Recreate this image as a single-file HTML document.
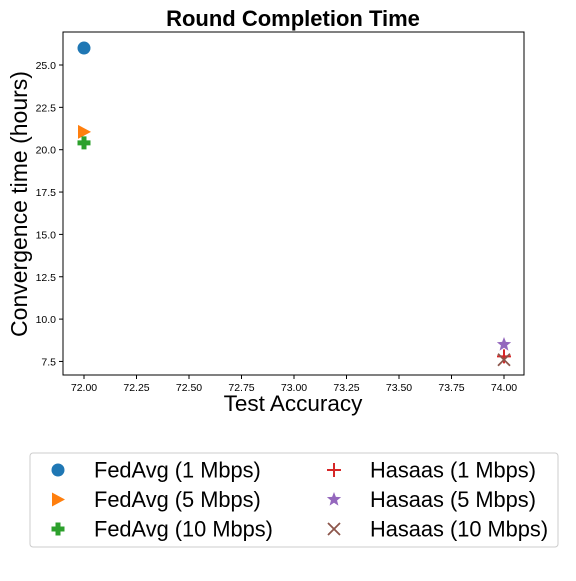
<!DOCTYPE html>
<html><head><meta charset="utf-8"><style>
body{margin:0;background:#fff;}
svg text{font-family:"Liberation Sans","DejaVu Sans",sans-serif;}
</style></head><body>
<svg id="c" width="576" height="576" xmlns="http://www.w3.org/2000/svg"></svg>
<script>
const seriesNames=["FedAvg (1 Mbps)","FedAvg (5 Mbps)","FedAvg (10 Mbps)","Hasaas (1 Mbps)","Hasaas (5 Mbps)","Hasaas (10 Mbps)"];
const xValues=[72,72,72,74,74,74];
const yValues=[26.0,21.05,20.4,7.8,8.5,7.6];
const xTicks=[72.00,72.25,72.50,72.75,73.00,73.25,73.50,73.75,74.00];
const yTicks=[7.5,10.0,12.5,15.0,17.5,20.0,22.5,25.0];
const colors=["#1f77b4","#ff7f0e","#2ca02c","#d62728","#9467bd","#8c564b"];
const shapes=["circle","tri","plusF","plus","star","x"];

const NS="http://www.w3.org/2000/svg";
const svg=document.getElementById('c');
const L=63,R=524,T=32,B=375;
const sx=v=>84+(v-72)*210;
const sy=v=>65-(v-25)*16.94;
function el(t,a,p){const e=document.createElementNS(NS,t);for(const k in a)e.setAttribute(k,a[k]);(p||svg).appendChild(e);return e;}
function marker(shape,x,y,col,g){
  let e;
  if(shape==="circle")e=el('circle',{cx:x,cy:y,r:6.5,fill:col},g);
  else if(shape==="tri")e=el('polygon',{points:`${x-6},${y-7} ${x+7},${y} ${x-6},${y+7}`,fill:col},g);
  else if(shape==="plusF")e=el('path',{d:`M${x-2.5},${y-6.5}h5v4h4v5h-4v4h-5v-4h-4v-5h4z`,fill:col},g);
  else if(shape==="plus")e=el('path',{d:`M${x-7},${y}h14M${x},${y-7}v14`,stroke:col,'stroke-width':2,fill:'none'},g);
  else if(shape==="star"){let p=[];for(let i=0;i<10;i++){const r=i%2?3.2:7.5,a=-Math.PI/2+i*Math.PI/5;p.push((x+r*Math.cos(a)).toFixed(2)+','+(y+r*Math.sin(a)).toFixed(2));}e=el('polygon',{points:p.join(' '),fill:col},g);}
  else e=el('path',{d:`M${x-6},${y-6}L${x+6},${y+6}M${x-6},${y+6}L${x+6},${y-6}`,stroke:col,'stroke-width':1.8,fill:'none'},g);
  return e;
}
const title=el('text',{x:293,y:26,'text-anchor':'middle','font-size':22,'font-weight':'bold'});title.textContent="Round Completion Time";


el('rect',{x:L,y:T,width:R-L,height:B-T,fill:'none',stroke:'#000','stroke-width':1});
xTicks.forEach(v=>{const x=sx(v);el('line',{x1:x,y1:B,x2:x,y2:B+4,stroke:'#000'});const t=el('text',{x:x,y:B+16,'text-anchor':'middle','font-size':10.5});t.textContent=v.toFixed(2);

});
yTicks.forEach(v=>{const y=sy(v);el('line',{x1:L-4,y1:y,x2:L,y2:y,stroke:'#000'});const t=el('text',{x:L-7,y:y+4,'text-anchor':'end','font-size':10.5});t.textContent=v.toFixed(1);

});
const xt=el('text',{x:293,y:411,'text-anchor':'middle','font-size':22.5});xt.textContent="Test Accuracy";


const yt=el('text',{x:0,y:0,'text-anchor':'middle','font-size':23,transform:'translate(27,204) rotate(-90)'});yt.textContent="Convergence time (hours)";


seriesNames.forEach((n,i)=>{const m=marker(shapes[i],sx(xValues[i]),sy(yValues[i]),colors[i]);

});
const lg=el('g',{});


el('rect',{x:30,y:453,width:528,height:94,rx:3,fill:'#fff',stroke:'#ccc'},lg);
seriesNames.forEach((n,i)=>{const col=Math.floor(i/3),row=i%3;const mx=col?334:58,y=470+row*29.5;
const g=el('g',{},lg);


marker(shapes[i],mx,y,colors[i],g);const t=el('text',{x:mx+36,y:y+7.5,'font-size':21.8},g);t.textContent=n;});
</script>
</body></html>
